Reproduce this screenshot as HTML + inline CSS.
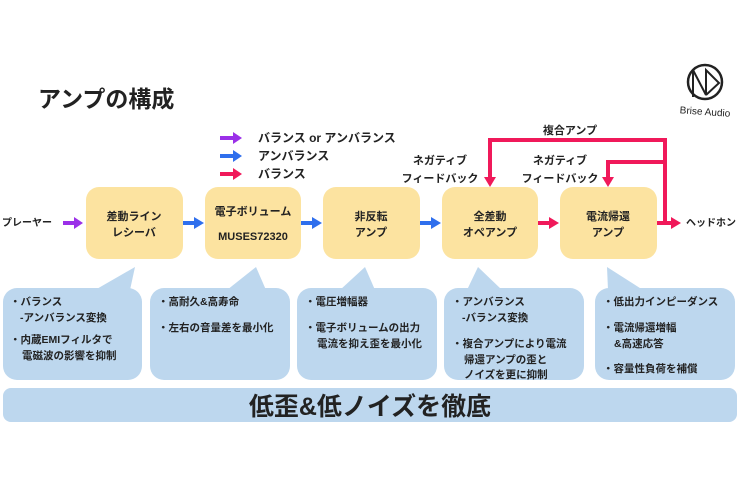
<!DOCTYPE html>
<html><head><meta charset="utf-8"><style>
body{margin:0;background:#fff}
svg{display:block}
text{font-family:"Liberation Sans","Noto Sans CJK JP",sans-serif;fill:#222}
</style></head><body>
<svg width="740" height="493" viewBox="0 0 740 493">
<text x="38" y="107" font-size="23" font-weight="bold">アンプの構成</text>
<circle cx="705" cy="82" r="17" fill="none" stroke="#222" stroke-width="2.5"/>
<path d="M693,97 L693,70 L706,95 L706,70 L719,83 L706,95" fill="none" stroke="#222" stroke-width="2"/>
<text x="705" y="115" font-size="10" text-anchor="middle" transform="rotate(4 705 112)">Brise Audio</text>
<g stroke-width="4">
<line x1="220" y1="138" x2="234" y2="138" stroke="#9b30e8"/><path d="M233,132L242,138L233,144z" fill="#9b30e8"/>
<line x1="220" y1="156" x2="234" y2="156" stroke="#2f6fed"/><path d="M233,150L242,156L233,162z" fill="#2f6fed"/>
<line x1="220" y1="174" x2="234" y2="174" stroke="#f0195a"/><path d="M233,168L242,174L233,180z" fill="#f0195a"/>
</g>
<g font-size="12" font-weight="bold">
<text x="258" y="142">バランス or アンバランス</text>
<text x="258" y="160">アンバランス</text>
<text x="258" y="178">バランス</text>
</g>
<g fill="#fce3a0">
<rect x="86" y="187" width="97" height="72" rx="13"/>
<rect x="205" y="187" width="96" height="72" rx="13"/>
<rect x="323" y="187" width="97" height="72" rx="13"/>
<rect x="442" y="187" width="96" height="72" rx="13"/>
<rect x="560" y="187" width="97" height="72" rx="13"/>
</g>
<g font-size="11" font-weight="bold" text-anchor="middle">
<text x="134" y="220">差動ライン</text><text x="134" y="236">レシーバ</text>
<text x="253" y="215">電子ボリューム</text><text x="253" y="240">MUSES72320</text>
<text x="371" y="220">非反転</text><text x="371" y="236">アンプ</text>
<text x="490" y="220">全差動</text><text x="490" y="236">オペアンプ</text>
<text x="608" y="220">電流帰還</text><text x="608" y="236">アンプ</text>
</g>
<g font-size="10" font-weight="bold">
<text x="2" y="226">プレーヤー</text>
<text x="686" y="226">ヘッドホン</text>
</g>
<g stroke-width="4">
<line x1="63" y1="223" x2="75" y2="223" stroke="#9b30e8"/><path d="M74,217L83,223L74,229z" fill="#9b30e8"/>
<line x1="183" y1="223" x2="195" y2="223" stroke="#2f6fed"/><path d="M194,217L204,223L194,229z" fill="#2f6fed"/>
<line x1="301" y1="223" x2="313" y2="223" stroke="#2f6fed"/><path d="M312,217L322,223L312,229z" fill="#2f6fed"/>
<line x1="420" y1="223" x2="432" y2="223" stroke="#2f6fed"/><path d="M431,217L441,223L431,229z" fill="#2f6fed"/>
<line x1="538" y1="223" x2="550" y2="223" stroke="#f0195a"/><path d="M549,217L559,223L549,229z" fill="#f0195a"/>
<line x1="657" y1="223" x2="672" y2="223" stroke="#f0195a"/><path d="M671,217L681,223L671,229z" fill="#f0195a"/>
<polyline points="665,223 665,140 490,140 490,178" fill="none" stroke="#f0195a"/>
<path d="M484,177L490,187L496,177z" fill="#f0195a"/>
<polyline points="665,162 608,162 608,178" fill="none" stroke="#f0195a"/>
<path d="M602,177L608,187L614,177z" fill="#f0195a"/>
</g>
<g font-size="11" font-weight="bold" text-anchor="middle">
<text x="570" y="134">複合アンプ</text>
<text x="440" y="164">ネガティブ</text><text x="440" y="182">フィードバック</text>
<text x="560" y="164">ネガティブ</text><text x="560" y="182">フィードバック</text>
</g>
<g fill="#bdd7ee">
<rect x="3" y="288" width="139" height="92" rx="14"/><path d="M95,290L135,267L130,290z"/>
<rect x="150" y="288" width="140" height="92" rx="14"/><path d="M227,290L256,267L266,290z"/>
<rect x="297" y="288" width="140" height="92" rx="14"/><path d="M340,290L365,267L375,290z"/>
<rect x="444" y="288" width="140" height="92" rx="14"/><path d="M467,290L478,267L502,290z"/>
<rect x="595" y="288" width="140" height="92" rx="14"/><path d="M608,290L607,267L643,290z"/>
<rect x="3" y="388" width="734" height="34" rx="8"/>
</g>
<g font-size="10.5" font-weight="bold">
<text x="10" y="305">・バランス</text><text x="20" y="321">-アンバランス変換</text>
<text x="10" y="343">・内蔵EMIフィルタで</text><text x="22" y="359">電磁波の影響を抑制</text>
<text x="158" y="305">・高耐久&amp;高寿命</text>
<text x="158" y="331">・左右の音量差を最小化</text>
<text x="305" y="305">・電圧増幅器</text>
<text x="305" y="331">・電子ボリュームの出力</text><text x="317" y="347">電流を抑え歪を最小化</text>
<text x="452" y="305">・アンバランス</text><text x="462" y="321">-バランス変換</text>
<text x="452" y="347">・複合アンプにより電流</text><text x="464" y="363">帰還アンプの歪と</text><text x="464" y="378">ノイズを更に抑制</text>
<text x="603" y="305">・低出力インピーダンス</text>
<text x="603" y="331">・電流帰還増幅</text><text x="614" y="347">&amp;高速応答</text>
<text x="603" y="372">・容量性負荷を補償</text>
</g>
<text x="370" y="415" font-size="25" font-weight="bold" text-anchor="middle">低歪&amp;低ノイズを徹底</text>
</svg>
</body></html>
